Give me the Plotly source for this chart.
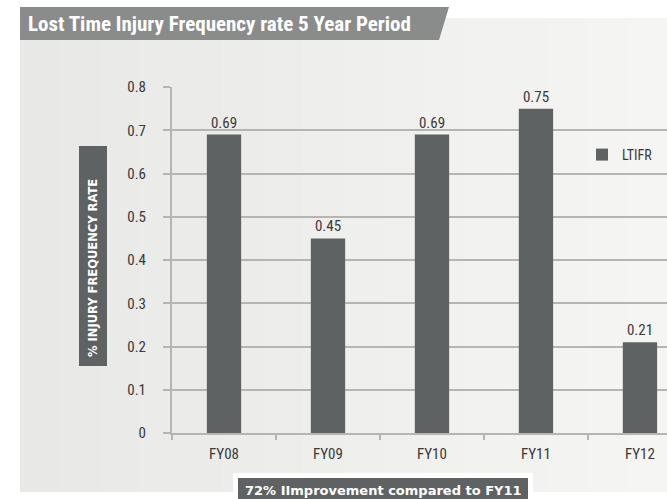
import plotly.graph_objects as go

# Lost Time Injury Frequency Rate by financial year
years = ["FY08", "FY09", "FY10", "FY11", "FY12"]
ltifr = [0.69, 0.45, 0.69, 0.75, 0.21]
value_labels = ["0.69", "0.45", "0.69", "0.75", "0.21"]
series_name = "LTIFR"

title_text = "Lost Time Injury Frequency rate 5 Year Period"
y_title_text = "% INJURY FREQUENCY RATE"
footer_text = "72% IImprovement compared to FY11"

W, H = 667, 499
L, R, T, B = 172, 0, 87, 66
PW, PH = W - L - R, H - T - B

BAR = "#5f6262"
GRID = "#b5b5b5"
COND = "Roboto Condensed, DejaVu Sans Condensed, sans-serif"


def px_x(px):
    return (px - L) / PW


def px_y(py):
    return (H - B - py) / PH


shapes = []

# light panel with a soft left-to-right gradient, built from vertical strips
x0, x1, ytop, ybot = 20, 667, 18, 492
n = 16
c0 = (232, 232, 230)
c1 = (245, 245, 244)
for i in range(n):
    t = i / (n - 1)
    col = tuple(round(c0[k] + (c1[k] - c0[k]) * t) for k in range(3))
    xa = x0 + (x1 - x0) * i / n
    xb = x0 + (x1 - x0) * (i + 1) / n + 0.5
    shapes.append(dict(type="rect", xref="paper", yref="paper", layer="below",
                       x0=px_x(xa), x1=px_x(xb), y0=px_y(ybot), y1=px_y(ytop),
                       fillcolor="rgb(%d,%d,%d)" % col, line=dict(width=0)))

# title banner with slanted right edge
banner = [(20, 7), (449, 7), (439, 40), (20, 40)]
path = "M " + " L ".join("%f,%f" % (px_x(a), px_y(b)) for a, b in banner) + " Z"
shapes.append(dict(type="path", xref="paper", yref="paper", layer="below", path=path,
                   fillcolor="#8a8c8c", line=dict(width=0)))

# y-axis title box
shapes.append(dict(type="rect", xref="paper", yref="paper", layer="above",
                   x0=px_x(79), x1=px_x(107), y0=px_y(366), y1=px_y(146),
                   fillcolor=BAR, line=dict(width=0)))

# footer: white cut-out and dark box
shapes.append(dict(type="rect", xref="paper", yref="paper", layer="above",
                   x0=px_x(233), x1=px_x(533), y0=px_y(505), y1=px_y(473),
                   fillcolor="white", line=dict(width=0)))
shapes.append(dict(type="rect", xref="paper", yref="paper", layer="above",
                   x0=px_x(238), x1=px_x(528), y0=px_y(505), y1=px_y(478),
                   fillcolor=BAR, line=dict(width=0)))

fig = go.Figure()
fig.add_trace(go.Bar(
    x=years, y=ltifr, name=series_name, width=0.33,
    marker=dict(color=BAR, line=dict(width=0)),
    text=value_labels, textposition="outside", cliponaxis=False,
    textfont=dict(family=COND, size=15, color="#3a3a3a"),
    showlegend=True,
))

annotations = [
    dict(text="<b>%s</b>" % title_text, xref="paper", yref="paper",
         x=px_x(26), y=px_y(24), xanchor="left", yanchor="middle", showarrow=False,
         font=dict(family=COND, size=21, color="white")),
    dict(text="<b>%s</b>" % y_title_text, xref="paper", yref="paper",
         x=px_x(93), y=px_y(268), xanchor="center", yanchor="middle", showarrow=False,
         textangle=-90, font=dict(family="DejaVu Sans", size=11.5, color="white")),
    dict(text="<b>%s</b>" % footer_text, xref="paper", yref="paper",
         x=px_x(383), y=px_y(490), xanchor="center", yanchor="middle", showarrow=False,
         font=dict(family="DejaVu Sans", size=13, color="white")),
]

fig.update_layout(
    width=W, height=H,
    margin=dict(l=L, r=R, t=T, b=B, pad=0),
    paper_bgcolor="white", plot_bgcolor="rgba(0,0,0,0)",
    shapes=shapes, annotations=annotations,
    legend=dict(x=px_x(582), y=px_y(155), xanchor="left", yanchor="middle",
                bgcolor="rgba(0,0,0,0)",
                font=dict(family=COND, size=14, color="#3a3a3a")),
    xaxis=dict(type="category", range=[-0.5, 4.26], tickson="boundaries",
               ticks="outside", ticklen=5, tickwidth=1.5, tickcolor=GRID,
               showline=True, linecolor=GRID, linewidth=2, showgrid=False,
               tickfont=dict(family=COND, size=15, color="#3a3a3a"),
               ticklabelstandoff=6),
    yaxis=dict(range=[0, 0.8], dtick=0.1, tick0=0, showgrid=True,
               gridcolor=GRID, gridwidth=2, zeroline=False,
               ticks="outside", ticklen=7, tickwidth=2, tickcolor=GRID,
               showline=True, linecolor=GRID, linewidth=2,
               tickfont=dict(family=COND, size=15, color="#3a3a3a"),
               ticklabelstandoff=14),
)

fig.write_html("out.html")
